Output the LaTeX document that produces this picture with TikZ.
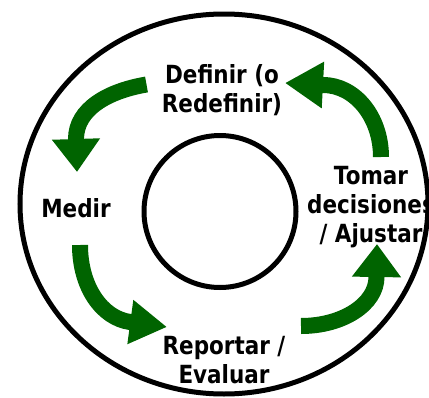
\documentclass[tikz,border=0pt]{standalone}
\usepackage{fontspec}
\newfontfamily\lblfont[FakeStretch=0.86]{DejaVu Sans}
\usetikzlibrary{arrows.meta}
\definecolor{arrowgreen}{RGB}{0,100,0}
\begin{document}
\begin{tikzpicture}[x=1pt,y=-1pt,
  lbl/.style={font=\lblfont\bfseries\fontsize{25}{29}\selectfont, align=center, inner sep=0pt, anchor=base},
  ring/.style={draw=black, line width=5pt},
  garrow/.style={draw=arrowgreen, line width=16pt}]
\useasboundingbox (0,0) rectangle (429,397);
\clip (0,0) rectangle (429,397);
\draw[ring] (224,204) ellipse [x radius=204, y radius=190];
\draw[ring] (220,211.5) circle [radius=76];
% base anchor of a multi-line node = baseline of its last line
\node[lbl] (defn) at (222,112) {Definir (o\\Redefinir)};
\node[lbl] (medir) at (76,217) {Medir};
\node[lbl] (tomar) at (371,242) {Tomar\\decisiones\\/ Ajustar};
\node[lbl] (report) at (224,383) {Reportar /\\Evaluar};
\coordinate (a1t) at (146.5,84.5);
\coordinate (a1b) at (76,139);
\coordinate (a1h) at (77,172);
\coordinate (a2t) at (381,157);
\coordinate (a2b) at (323,85);
\coordinate (a2h) at (285,83);
\coordinate (a3t) at (80,245);
\coordinate (a3b) at (130,322);
\coordinate (a3h) at (167,327);
\coordinate (a4t) at (301,326);
\coordinate (a4b) at (376.5,277);
\coordinate (a4h) at (377,244);
\draw[garrow, -{Triangle[width=46pt,length=33pt]}] (a1t) .. controls (108,91) and (76,109) .. (a1b) -- (a1h);
\draw[garrow, -{Triangle[width=44pt,length=38pt]}] (a2t) .. controls (381,117) and (355,85) .. (a2b) -- (a2h);
\draw[garrow, -{Triangle[width=42pt,length=37pt]}] (a3t) .. controls (80,287) and (102,318) .. (a3b) -- (a3h);
\draw[garrow, -{Triangle[width=47pt,length=33pt]}] (a4t) .. controls (343,326) and (376.5,304) .. (a4b) -- (a4h);
\end{tikzpicture}
\end{document}
